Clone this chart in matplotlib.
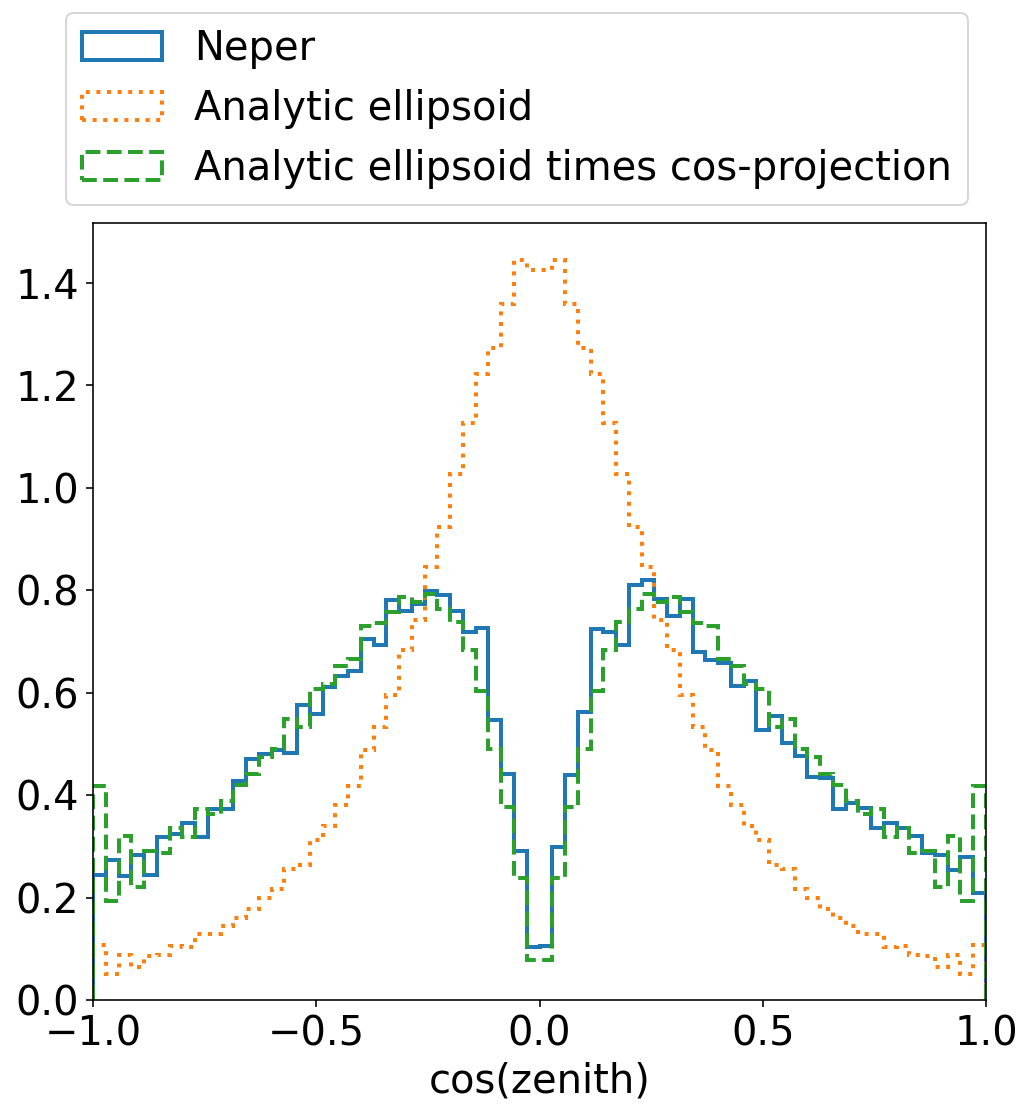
import numpy as np
import matplotlib
matplotlib.use("Agg")
from matplotlib import pyplot as plt

# histogram heights, 70 bins over cos(zenith) in [-1, 1]
n_bins = 70
neper = [0.245, 0.274, 0.243, 0.284, 0.244, 0.319, 0.324, 0.346, 0.319, 0.372,
         0.372, 0.427, 0.470, 0.481, 0.489, 0.482, 0.576, 0.558, 0.612, 0.633,
         0.643, 0.705, 0.693, 0.781, 0.760, 0.773, 0.799, 0.790, 0.760, 0.718,
         0.727, 0.547, 0.441, 0.291, 0.104, 0.105, 0.299, 0.439, 0.562, 0.724,
         0.719, 0.694, 0.810, 0.820, 0.784, 0.750, 0.784, 0.679, 0.663, 0.658,
         0.613, 0.623, 0.527, 0.555, 0.502, 0.476, 0.436, 0.433, 0.372, 0.385,
         0.374, 0.336, 0.346, 0.336, 0.320, 0.288, 0.283, 0.254, 0.280, 0.209]
ellipsoid = [0.107, 0.051, 0.088, 0.064, 0.086, 0.088, 0.105, 0.104, 0.129, 0.129,
             0.144, 0.161, 0.177, 0.200, 0.217, 0.255, 0.263, 0.312, 0.340, 0.381,
             0.417, 0.488, 0.534, 0.596, 0.684, 0.743, 0.845, 0.923, 1.028, 1.126,
             1.222, 1.274, 1.360, 1.445, 1.425, 1.425, 1.445, 1.360, 1.274, 1.222,
             1.126, 1.028, 0.923, 0.845, 0.743, 0.684, 0.596, 0.534, 0.488, 0.417,
             0.381, 0.340, 0.312, 0.263, 0.255, 0.217, 0.200, 0.177, 0.161, 0.144,
             0.129, 0.129, 0.104, 0.105, 0.088, 0.086, 0.064, 0.088, 0.051, 0.107]
ellipsoid_cos = [0.418, 0.193, 0.320, 0.220, 0.291, 0.288, 0.336, 0.319, 0.372, 0.364,
                 0.388, 0.420, 0.442, 0.475, 0.491, 0.549, 0.533, 0.607, 0.618, 0.652,
                 0.666, 0.730, 0.737, 0.758, 0.786, 0.778, 0.792, 0.763, 0.739, 0.683,
                 0.604, 0.490, 0.376, 0.239, 0.078, 0.078, 0.239, 0.376, 0.490, 0.604,
                 0.683, 0.739, 0.763, 0.792, 0.778, 0.786, 0.758, 0.737, 0.730, 0.666,
                 0.652, 0.618, 0.607, 0.533, 0.549, 0.491, 0.475, 0.442, 0.420, 0.388,
                 0.364, 0.372, 0.319, 0.336, 0.288, 0.291, 0.220, 0.320, 0.193, 0.418]

edges = np.linspace(-1, 1, n_bins + 1)
centers = 0.5 * (edges[:-1] + edges[1:])

plt.rcParams["font.size"] = 20

fig = plt.figure(figsize=(1033 / 144, 1110 / 144), dpi=144)
ax = fig.add_axes([93 / 1033, 1 - 1000 / 1110, (986 - 93) / 1033, (1000 - 223) / 1110])

ax.hist(centers, bins=edges, weights=neper, histtype="step", lw=2, color="C0", label="Neper")
ax.hist(centers, bins=edges, weights=ellipsoid, histtype="step", lw=2, ls=":", color="C1",
        label="Analytic ellipsoid")
ax.hist(centers, bins=edges, weights=ellipsoid_cos, histtype="step", lw=2, ls="--", color="C2",
        label="Analytic ellipsoid times cos-projection")

ax.set_xlim(-1, 1)
ax.set_xlabel("cos(zenith)")

fig.legend(loc="upper left", bbox_to_anchor=(66 / 1033, 1 - 13 / 1110), borderaxespad=0)

fig.savefig("out.png", dpi=144)
